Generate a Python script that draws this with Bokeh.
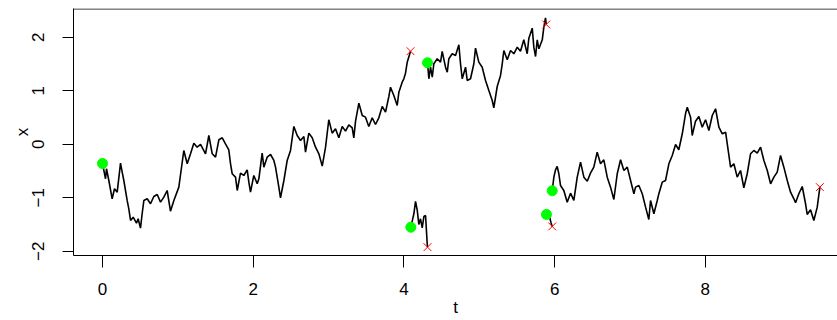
from bokeh.plotting import figure
from bokeh.models import Range1d, Span, FixedTicker
from bokeh.embed import file_html
from bokeh.resources import INLINE

# --- data (five consecutive path segments) ---
t1 = [0.000, 0.040, 0.053, 0.084, 0.128, 0.159, 0.195, 0.239, 0.261, 0.283, 0.327, 0.349, 0.372, 0.407,
      0.451, 0.473, 0.504, 0.526, 0.549, 0.593, 0.637, 0.681, 0.726, 0.770, 0.814, 0.858, 0.902, 0.947,
      1.013, 1.079, 1.124, 1.168, 1.212, 1.256, 1.301, 1.367, 1.411, 1.456, 1.500, 1.544, 1.589, 1.632,
      1.676, 1.699, 1.721, 1.765, 1.788, 1.831, 1.875, 1.920, 1.942, 1.964, 2.008, 2.053, 2.075, 2.119,
      2.141, 2.186, 2.230, 2.274, 2.296, 2.340, 2.362, 2.407, 2.451, 2.495, 2.539, 2.584, 2.628, 2.672,
      2.694, 2.738, 2.783, 2.827, 2.871, 2.916, 2.960, 3.003, 3.048, 3.092, 3.136, 3.181, 3.225, 3.269,
      3.314, 3.335, 3.358, 3.402, 3.447, 3.490, 3.534, 3.579, 3.623, 3.667, 3.712, 3.756, 3.800, 3.822,
      3.866, 3.911, 3.933, 3.977, 3.999, 4.021, 4.044, 4.088]
x1 = [-0.359, -0.645, -0.458, -0.677, -1.019, -0.832, -0.895, -0.353, -0.521, -0.677, -1.050, -1.206,
      -1.424, -1.362, -1.474, -1.393, -1.568, -1.299, -1.050, -1.019, -1.112, -0.976, -0.938, -1.082,
      -0.988, -0.864, -1.250, -1.050, -0.801, -0.116, -0.365, -0.178, 0.021, -0.054, -0.004, -0.178,
      0.164, -0.178, -0.240, 0.084, 0.121, 0.009, -0.103, -0.365, -0.551, -0.615, -0.864, -0.540, -0.583,
      -0.477, -0.708, -0.895, -0.583, -0.739, -0.645, -0.166, -0.428, -0.240, -0.191, -0.303, -0.428,
      -0.801, -1.000, -0.677, -0.303, -0.116, 0.333, 0.164, 0.071, 0.146, -0.147, 0.208, 0.121, -0.054,
      -0.178, -0.409, -0.054, 0.458, 0.208, 0.290, 0.121, 0.333, 0.246, 0.364, 0.308, 0.121, 0.432,
      0.768, 0.538, 0.507, 0.333, 0.495, 0.370, 0.495, 0.707, 0.600, 0.893, 1.067, 0.912, 0.725, 0.974,
      1.161, 1.224, 1.329, 1.535, 1.740]

t2 = [4.092, 4.132, 4.154, 4.177, 4.198, 4.220, 4.243, 4.265, 4.287, 4.309, 4.313]
x2 = [-1.550, -1.299, -1.069, -1.237, -1.499, -1.393, -1.561, -1.350, -1.331, -1.860, -1.923]

t3 = [4.313, 4.331, 4.353, 4.376, 4.397, 4.442, 4.486, 4.508, 4.552, 4.575, 4.596, 4.641, 4.685, 4.729,
      4.751, 4.774, 4.818, 4.840, 4.884, 4.928, 4.950, 4.994, 5.039, 5.083, 5.127, 5.172, 5.193, 5.238,
      5.282, 5.305, 5.326, 5.371, 5.415, 5.459, 5.504, 5.547, 5.591, 5.636, 5.658, 5.703, 5.724, 5.747,
      5.769, 5.791, 5.836, 5.857, 5.879, 5.889]
x3 = [1.523, 1.224, 1.441, 1.254, 1.505, 1.598, 1.535, 1.735, 1.441, 1.348, 1.598, 1.692, 1.660, 1.860,
      1.505, 1.224, 1.441, 1.193, 1.224, 1.505, 1.796, 1.535, 1.441, 1.193, 1.006, 0.819, 0.682, 1.080,
      1.286, 1.505, 1.753, 1.579, 1.753, 1.692, 1.815, 1.740, 1.953, 1.692, 1.983, 2.170, 1.815, 1.641,
      1.953, 1.785, 1.953, 2.189, 2.364, 2.239]

t4 = [5.892, 5.932, 5.950, 5.968]
x4 = [-1.312, -1.350, -1.456, -1.536]

t5 = [5.968, 5.990, 6.012, 6.034, 6.056, 6.078, 6.122, 6.167, 6.211, 6.255, 6.300, 6.344, 6.388, 6.433,
      6.476, 6.520, 6.565, 6.609, 6.653, 6.698, 6.742, 6.786, 6.831, 6.875, 6.919, 6.964, 7.008, 7.052,
      7.074, 7.118, 7.163, 7.207, 7.250, 7.273, 7.317, 7.362, 7.383, 7.428, 7.472, 7.516, 7.561, 7.605,
      7.648, 7.694, 7.737, 7.760, 7.804, 7.826, 7.870, 7.914, 7.959, 8.003, 8.047, 8.092, 8.136, 8.180,
      8.225, 8.269, 8.291, 8.335, 8.379, 8.423, 8.467, 8.511, 8.556, 8.600, 8.644, 8.689, 8.733, 8.777,
      8.822, 8.866, 8.910, 8.954, 8.998, 9.042, 9.087, 9.131, 9.175, 9.197, 9.241, 9.286, 9.330, 9.352,
      9.396, 9.440, 9.485, 9.520]
x5 = [-0.869, -0.615, -0.477, -0.415, -0.551, -0.770, -0.864, -1.082, -0.914, -1.050, -0.615, -0.335,
      -0.615, -0.690, -0.540, -0.428, -0.147, -0.365, -0.290, -0.615, -0.801, -1.032, -0.551, -0.290,
      -0.490, -0.428, -0.677, -0.925, -0.801, -0.770, -0.925, -1.175, -1.406, -1.050, -1.299, -1.050,
      -0.925, -0.708, -0.677, -0.365, -0.209, -0.004, -0.103, 0.196, 0.570, 0.693, 0.507, 0.164, 0.432,
      0.520, 0.320, 0.458, 0.258, 0.538, 0.664, 0.320, 0.196, 0.226, 0.009, -0.428, -0.365, -0.615,
      -0.490, -0.813, -0.551, -0.178, -0.116, -0.166, -0.054, -0.303, -0.490, -0.739, -0.615, -0.521,
      -0.209, -0.428, -0.677, -0.895, -1.019, -1.093, -0.925, -0.789, -1.112, -1.312, -1.224, -1.424,
      -1.175, -0.801]

segments_t = [t1, t2, t3, t4, t5]
segments_x = [x1, x2, x3, x4, x5]

x_ticks = [0, 2, 4, 6, 8]
y_ticks = [-2, -1, 0, 1, 2]
x_title = "t"
y_title = "x"

XMIN, XMAX = -0.385, 9.754
YMIN, YMAX = -2.079, 2.538

p = figure(width=837, height=320, x_range=Range1d(XMIN, XMAX), y_range=Range1d(YMIN, YMAX),
           output_backend="svg", toolbar_location=None,
           min_border_left=73, min_border_right=0, min_border_top=8, min_border_bottom=65)
p.outline_line_color = None
p.grid.visible = False
p.background_fill_color = "white"
p.border_fill_color = "white"

for ts, xs in zip(segments_t, segments_x):
    p.line(ts, xs, line_color="black", line_width=1.6)

starts_t = [s[0] for s in segments_t]
starts_x = [s[0] for s in segments_x]
ends_t = [s[-1] for s in segments_t]
ends_x = [s[-1] for s in segments_x]

p.scatter(starts_t, starts_x, marker="circle", size=10, fill_color="#00FF00", line_color="#00FF00")
p.scatter(ends_t, ends_x, marker="x", size=11, line_color="#FF0000", line_width=1)

# top edge of the box
p.add_layout(Span(location=YMAX - 0.5 / 53.5, dimension="width", line_color="black", line_width=1))

font = "Liberation Sans"
for ax in (p.xaxis[0], p.yaxis[0]):
    ax.axis_line_color = "black"
    ax.major_tick_line_color = "black"
    ax.minor_tick_line_color = None
    ax.major_tick_in = 0
    ax.major_label_text_font = font
    ax.major_label_text_font_size = "17px"
    ax.major_label_text_color = "black"
    ax.axis_label_text_font = font
    ax.axis_label_text_font_size = "17px"
    ax.axis_label_text_font_style = "normal"
    ax.axis_label_text_color = "black"

p.xaxis[0].ticker = FixedTicker(ticks=x_ticks)
p.yaxis[0].ticker = FixedTicker(ticks=y_ticks)
p.xaxis[0].major_tick_out = 12
p.yaxis[0].major_tick_out = 11
p.xaxis[0].major_label_standoff = 15
p.yaxis[0].major_label_standoff = 18
p.yaxis[0].major_label_orientation = "vertical"
p.xaxis[0].axis_label = x_title
p.yaxis[0].axis_label = y_title
p.xaxis[0].axis_label_standoff = 0
p.yaxis[0].axis_label_standoff = -2

open("out.html", "w").write(file_html(p, INLINE))
